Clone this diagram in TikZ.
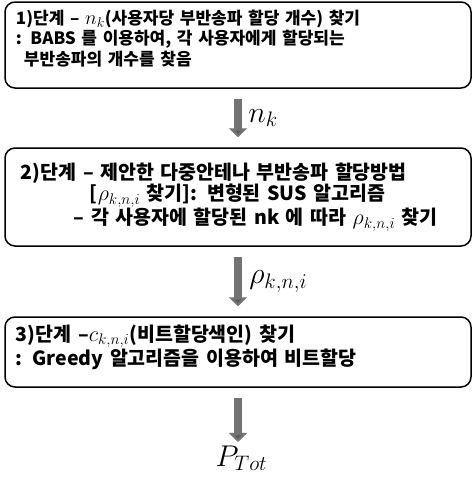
\RequirePackage{fix-cm}
\documentclass[tikz,border=0pt]{standalone}
\usepackage{amsmath}
\usepackage{fontspec}
\setmainfont{Noto Sans CJK KR}
\usepackage{tikz}
\usetikzlibrary{arrows.meta}
\usetikzlibrary{positioning}
\tikzset{stepbox/.style = {draw, line width = 1.5pt, rounded corners = 10pt,
                           minimum width = 466pt, text width = 444pt, inner xsep = 11pt,
                           align = left, font = \fontsize{17}{20.5}\selectfont\bfseries}}
\tikzset{bigtext/.style = {font = \fontsize{19.5}{21.5}\selectfont\bfseries}}
\tikzset{fatarrow/.style = {draw = black!55, line width = 8pt,
                            -{Triangle[length = 9pt, width = 18pt, fill = black!65]},
                            shorten < = 10pt, shorten > = 10pt}}
\tikzset{flowlabel/.style = {right, font = \fontsize{30}{30}\selectfont}}
\newcommand{\mbig}[2][20]{{\fontsize{#1}{#1}\selectfont$#2$}}

\begin{document}
\begin{tikzpicture}[x = 1pt, y = -1pt]
      \useasboundingbox (0, 0) rectangle (475, 480);

      \node [stepbox, minimum height = 86pt] (step1) at (238, 45)
        {1)단계 -- \mbig{n_k}(사용자당 부반송파 할당 개수) 찾기\\
         : BABS 를 이용하여, 각 사용자에게 할당되는\\
         \hspace*{8pt}부반송파의 개수를 찾음\\[-6pt]\mbox{}};
      \node [stepbox, bigtext, minimum height = 98pt] (step2) at (238, 197)
        {\hspace*{5pt}2)단계 -- 제안한 다중안테나 부반송파 할당방법\\
         \hspace*{74pt}[\mbig[22]{\rho_{k,n,i}} 찾기]: 변형된 SUS 알고리즘\\
         \hspace*{58pt}-- 각 사용자에 할당된 nk 에 따라 \mbig[22]{\rho_{k,n,i}} 찾기};
      \node [stepbox, bigtext, minimum height = 70pt] (step3) at (238, 352)
        {3)단계 --\mbig[22]{c_{k,n,i}}(비트할당색인) 찾기\\
         : Greedy 알고리즘을 이용하여 비트할당\\[-8pt]\mbox{}};
      \node [flowlabel] (ptot) at (212, 458) {$P_{Tot}$};

      \draw [fatarrow] (step1) -- (step2) node [flowlabel, pos = 0.5, xshift = 3pt] {$n_k$};
      \draw [fatarrow] (step2) -- (step3) node [flowlabel, pos = 0.5, xshift = 4pt] {$\rho_{k,n,i}$};
      \draw [fatarrow, shorten > = 0pt] (step3) -- (step3 |- ptot.north);

    \end{tikzpicture}
\end{document}
